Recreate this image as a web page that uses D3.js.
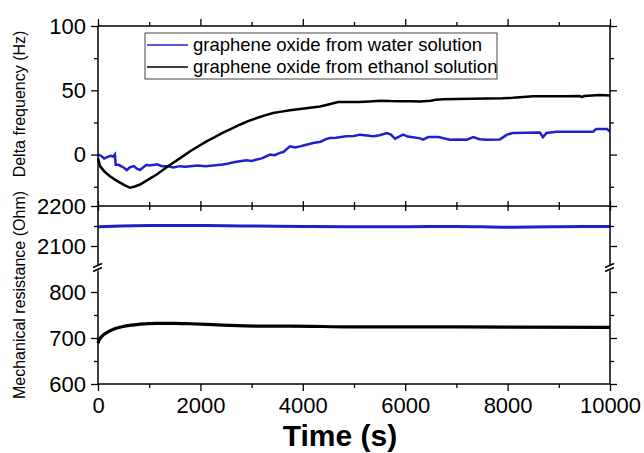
<!DOCTYPE html>
<meta charset="utf-8">
<script src="https://d3js.org/d3.v7.min.js"></script>
<style>
  body { margin: 0; background: #fff; }
  text { font-family: Arial, "Liberation Sans", sans-serif; }
</style>
<div id="chart"></div>
<script>

// top panel: delta frequency (Hz)
var freqWater = [[0,0],[60,-1],[120,-3],[180,-2],[240,-1],[300,-1.5],[330,0],[345,-8],[400,-8],[450,-9],[500,-10],[560,-12],[620,-10],[700,-9],[760,-11],[820,-12],[880,-10],[950,-8],[1000,-8.5],[1100,-8],[1150,-7.5],[1250,-9],[1350,-9],[1470,-10],[1600,-9],[1700,-9.5],[1800,-9],[1950,-8.5],[2100,-9],[2250,-8.5],[2440,-7.8],[2550,-7],[2650,-6],[2770,-5.2],[2900,-4.5],[3000,-5],[3100,-3.9],[3200,-3],[3360,0],[3450,-0.5],[3555,1.3],[3620,2],[3750,6.4],[3850,5.5],[3945,6.4],[4050,7.5],[4200,9],[4350,10],[4450,12],[4530,12.9],[4650,13],[4850,14.2],[5000,14.5],[5117,15.5],[5250,14.8],[5377,14.2],[5500,15],[5640,16.8],[5720,15.5],[5800,12.4],[5880,14],[5960,15.5],[6050,14],[6150,13.4],[6290,12.6],[6350,11.6],[6450,13.6],[6650,13.6],[6875,11.6],[7050,11.8],[7200,11.6],[7330,13.6],[7450,12],[7600,11.6],[7850,11.8],[7990,15.5],[8100,16.8],[8360,17],[8630,17.2],[8690,13.6],[8760,16.8],[8950,17.8],[9300,17.8],[9670,17.8],[9730,19.9],[9940,19.9],[10000,18]]

var freqEthanol = [[0,-3],[40,-9],[120,-13],[234,-16.8],[330,-19.5],[430,-21.8],[525,-24],[625,-25.7],[720,-24.8],[820,-23.3],[980,-19.5],[1146,-15.5],[1300,-11],[1470,-6.3],[1640,-1.8],[1800,2.6],[1960,6.5],[2120,10.3],[2280,13.5],[2440,17],[2600,20],[2770,23.2],[2930,26],[3100,28.4],[3260,30.5],[3420,32.3],[3555,33.2],[3750,34.5],[3945,35.5],[4140,36.5],[4336,37.4],[4500,39],[4690,40.8],[4900,40.8],[5117,40.8],[5300,41.3],[5508,41.9],[5700,41.6],[5900,41.5],[6100,41.4],[6290,41.3],[6500,41.8],[6600,42.6],[6740,43],[7000,43.2],[7300,43.4],[7600,43.6],[7900,43.8],[8100,44.2],[8300,44.8],[8500,45.3],[8800,45.3],[9100,45.4],[9400,45.5],[9450,44.8],[9500,45.5],[9800,46.3],[10000,46]]

// bottom panel: mechanical resistance (Ohm)
var resWater = [[0,2148],[1000,2151],[2000,2151],[3000,2150],[4000,2149],[5000,2148],[6000,2148],[7000,2149],[8000,2147],[9000,2148],[10000,2149]]

var resEthanol = [[0,689],[30,697],[80,704],[160,711],[300,719],[490,725],[820,730],[1150,732],[1500,732],[1800,731],[2440,728],[3100,726],[3750,726],[5000,724],[7000,724],[10000,723]]

var seriesNames = ["graphene oxide from water solution", "graphene oxide from ethanol solution"]
var seriesColors = ["#2020cc", "#000000"]

var xTicks = [0, 2000, 4000, 6000, 8000, 10000]
var xMinor = [1000, 3000, 5000, 7000, 9000]
var freqTicks = [0, 50, 100]
var freqMinor = [-25, 25, 75]
var resUpperTicks = [2100, 2200]
var resUpperMinor = [2150]
var resLowerTicks = [600, 700, 800]
var resLowerMinor = [650, 750]

var w = 644, h = 453
var pLeft = 98, pRight = 610, pTop = 26, pMid = 206, pBrk = 268, pBottom = 384

var svg = d3.select("#chart").append("svg")
  .attr("width", w).attr("height", h)

var x = d3.scaleLinear().domain([0, 10000]).range([pLeft, pRight])
var yFreq = d3.scaleLinear().domain([-40, 100]).range([pMid, pTop])
var yUp = d3.scaleLinear().domain([2045, 2200]).range([pBrk, pMid])
var yLow = d3.scaleLinear().domain([600, 852.2]).range([pBottom, pBrk])

// lines
var lineFreq = d3.line().x(d => x(d[0])).y(d => yFreq(d[1]))
var lineUp = d3.line().x(d => x(d[0])).y(d => yUp(d[1])).curve(d3.curveMonotoneX)
var lineLow = d3.line().x(d => x(d[0])).y(d => yLow(d[1])).curve(d3.curveMonotoneX)

svg.append("path").datum(freqWater).attr("d", lineFreq)
  .attr("fill", "none").attr("stroke", seriesColors[0]).attr("stroke-width", 2.5)
svg.append("path").datum(freqEthanol).attr("d", lineFreq)
  .attr("fill", "none").attr("stroke", seriesColors[1]).attr("stroke-width", 2.5)
svg.append("path").datum(resWater).attr("d", lineUp)
  .attr("fill", "none").attr("stroke", seriesColors[0]).attr("stroke-width", 3)
svg.append("path").datum(resEthanol).attr("d", lineLow)
  .attr("fill", "none").attr("stroke", seriesColors[1]).attr("stroke-width", 3.2)

// axes
function styleAxis(g) {
  g.selectAll(".domain").remove()
  g.selectAll("line").attr("stroke", "#000").attr("stroke-width", 1.3)
  g.selectAll("text").attr("font-size", "22px").attr("fill", "#000")
}

// x bottom
svg.append("g").attr("transform", `translate(0,${pBottom})`)
  .call(d3.axisBottom(x).tickValues(xTicks).tickSize(7).tickPadding(6).tickFormat(d3.format("d")))
  .call(styleAxis)
svg.append("g").attr("transform", `translate(0,${pBottom})`)
  .call(d3.axisBottom(x).tickValues(xMinor).tickSize(4).tickFormat(""))
  .call(styleAxis)
// x top edge
svg.append("g").attr("transform", `translate(0,${pTop})`)
  .call(d3.axisTop(x).tickValues(xTicks).tickSize(7).tickFormat(""))
  .call(styleAxis)
svg.append("g").attr("transform", `translate(0,${pTop})`)
  .call(d3.axisTop(x).tickValues(xMinor).tickSize(4).tickFormat(""))
  .call(styleAxis)
// middle shared edge, ticks both ways
;[d3.axisTop, d3.axisBottom].forEach(function(ax) {
  svg.append("g").attr("transform", `translate(0,${pMid})`)
    .call(ax(x).tickValues(xTicks).tickSize(5).tickFormat(""))
    .call(styleAxis)
  svg.append("g").attr("transform", `translate(0,${pMid})`)
    .call(ax(x).tickValues(xMinor).tickSize(4).tickFormat(""))
    .call(styleAxis)
})

// y axes
function yAxes(scale, major, minor, fmt) {
  svg.append("g").attr("transform", `translate(${pLeft},0)`)
    .call(d3.axisLeft(scale).tickValues(major).tickSize(7).tickPadding(5).tickFormat(fmt))
    .call(styleAxis)
  svg.append("g").attr("transform", `translate(${pLeft},0)`)
    .call(d3.axisLeft(scale).tickValues(minor).tickSize(4).tickFormat(""))
    .call(styleAxis)
  svg.append("g").attr("transform", `translate(${pRight},0)`)
    .call(d3.axisRight(scale).tickValues(major).tickSize(7).tickFormat(""))
    .call(styleAxis)
  svg.append("g").attr("transform", `translate(${pRight},0)`)
    .call(d3.axisRight(scale).tickValues(minor).tickSize(4).tickFormat(""))
    .call(styleAxis)
}
yAxes(yFreq, freqTicks, freqMinor, d3.format("d"))
yAxes(yUp, resUpperTicks, resUpperMinor, d3.format("d"))
yAxes(yLow, resLowerTicks, resLowerMinor, d3.format("d"))

// frame
var frame = svg.append("g").attr("stroke", "#000").attr("stroke-width", 1.5).attr("fill", "none")
frame.append("line").attr("x1", pLeft).attr("x2", pRight).attr("y1", pTop).attr("y2", pTop)
frame.append("line").attr("x1", pLeft).attr("x2", pRight).attr("y1", pMid).attr("y2", pMid)
frame.append("line").attr("x1", pLeft).attr("x2", pRight).attr("y1", pBottom).attr("y2", pBottom)
;[pLeft, pRight].forEach(function(xx) {
  frame.append("line").attr("x1", xx).attr("x2", xx).attr("y1", pTop).attr("y2", pBrk - 2.5)
  frame.append("line").attr("x1", xx).attr("x2", xx).attr("y1", pBrk + 2.5).attr("y2", pBottom)
  // break marks
  frame.append("line").attr("x1", xx - 5).attr("x2", xx + 4).attr("y1", pBrk - 0.5).attr("y2", pBrk - 4.5)
  frame.append("line").attr("x1", xx - 5).attr("x2", xx + 4).attr("y1", pBrk + 3.5).attr("y2", pBrk - 0.5)
})

// axis titles
svg.append("text")
  .attr("transform", `translate(25,${(pTop + pMid) / 2 - 12}) rotate(-90)`)
  .attr("text-anchor", "middle").attr("font-size", "16px")
  .text("Delta frequency (Hz)")
svg.append("text")
  .attr("transform", `translate(25,${(pMid + pBottom) / 2}) rotate(-90)`)
  .attr("text-anchor", "middle").attr("font-size", "16px")
  .text("Mechanical resistance (Ohm)")
svg.append("text")
  .attr("x", 340).attr("y", 446)
  .attr("text-anchor", "middle").attr("font-size", "30px").attr("font-weight", "bold")
  .text("Time (s)")

// legend
var legend = svg.append("g").attr("transform", "translate(145,33)")
legend.append("rect").attr("width", 352).attr("height", 46)
  .attr("fill", "#fff").attr("stroke", "#444").attr("stroke-width", 1)
seriesNames.forEach(function(name, i) {
  var cy = 12 + i * 22
  legend.append("line").attr("x1", 2).attr("x2", 43).attr("y1", cy).attr("y2", cy)
    .attr("stroke", seriesColors[i]).attr("stroke-width", 1.6)
  legend.append("text").attr("x", 48).attr("y", cy).attr("dy", "0.35em")
    .attr("font-size", "18.5px").text(name)
})

</script>
